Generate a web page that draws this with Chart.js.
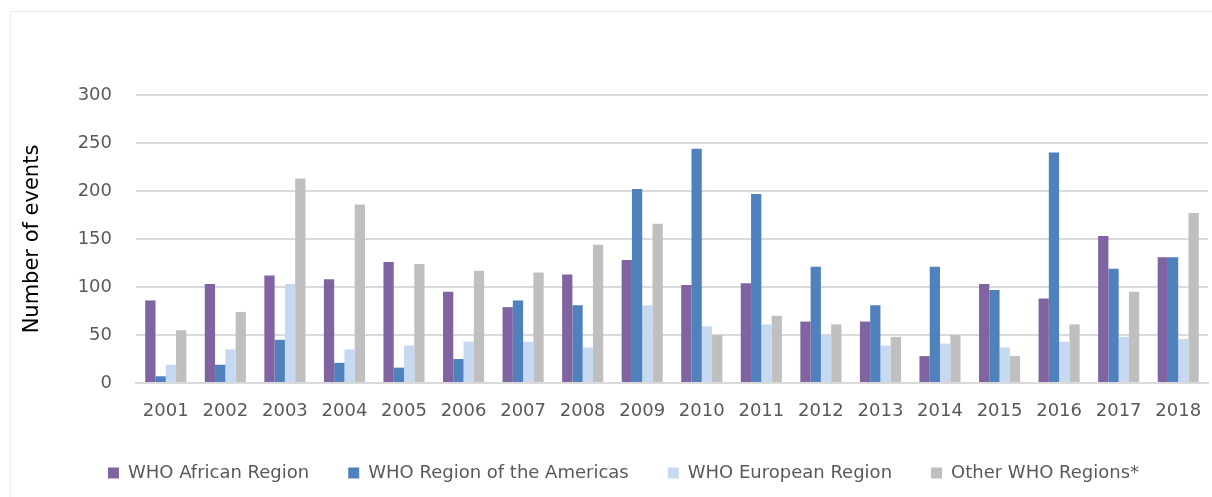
<!DOCTYPE html>
<html>
<head>
<meta charset="utf-8">
<script src="https://cdn.jsdelivr.net/npm/chart.js@4.4.1/dist/chart.umd.min.js"></script>
<style>
  body { margin: 0; background: #fff; overflow: hidden; }
  #frame { position: absolute; left: 10px; top: 11px; width: 1300px; height: 600px;
           border-left: 1px solid #ececec; border-top: 1px solid #ececec; }
  #chart { position: absolute; left: 0; top: 0; }
</style>
</head>
<body>
<div id="frame"></div>
<canvas id="chart" width="1212" height="497"></canvas>
<script>
var years = ['2001', '2002', '2003', '2004', '2005', '2006', '2007', '2008', '2009',
  '2010', '2011', '2012', '2013', '2014', '2015', '2016', '2017', '2018'];
var african = [86, 103, 112, 108, 126, 95, 79, 113, 128, 102, 104, 64, 64, 28, 103, 88, 153, 131];
var americas = [7, 19, 45, 21, 16, 25, 86, 81, 202, 244, 197, 121, 81, 121, 97, 240, 119, 131];
var european = [19, 35, 103, 35, 39, 43, 43, 37, 81, 59, 61, 50, 39, 41, 37, 43, 48, 46];
var other = [55, 74, 213, 186, 124, 117, 115, 144, 166, 50, 70, 61, 48, 50, 28, 61, 95, 177];
var yTicks = [0, 50, 100, 150, 200, 250, 300];

var font = 'DejaVu Sans';
var grey = '#595959';

var ctx = document.getElementById('chart').getContext('2d');
var chart = new Chart(ctx, {
  type: 'bar',
  data: {
    labels: years,
    datasets: [
      { label: 'WHO African Region', data: african, backgroundColor: '#8064A2' },
      { label: 'WHO Region of the Americas', data: americas, backgroundColor: '#4F81BD' },
      { label: 'WHO European Region', data: european, backgroundColor: '#C6D9F1' },
      { label: 'Other WHO Regions*', data: other, backgroundColor: '#BFBFBF' }
    ]
  },
  options: {
    responsive: false,
    animation: false,
    layout: { padding: { left: 39, right: 4, top: 95, bottom: 5 } },
    datasets: { bar: { categoryPercentage: 0.69, barPercentage: 1.0 } },
    plugins: {
      tooltip: { enabled: false },
      legend: {
        position: 'bottom',
        labels: {
          boxWidth: 11,
          boxHeight: 11,
          padding: 39,
          color: grey,
          font: { family: font, size: 18 }
        }
      }
    },
    scales: {
      x: {
        grid: { display: false },
        border: { color: '#d9d9d9', width: 2 },
        ticks: { color: grey, padding: 10, maxRotation: 0, font: { family: font, size: 18 } },
        afterFit: function (s) { s.height = 42; }
      },
      y: {
        min: 0,
        max: 300,
        afterBuildTicks: function (s) { s.ticks = yTicks.map(function (v) { return { value: v }; }); },
        grid: { color: '#dadada', lineWidth: 2, drawTicks: false },
        border: { display: false },
        ticks: { color: grey, padding: 24, font: { family: font, size: 18 } },
        title: {
          display: true,
          text: 'Number of events',
          color: '#000',
          padding: { top: -18.6, bottom: 0 },
          font: { family: font, size: 21 }
        },
        afterFit: function (s) { s.width = 97; }
      }
    }
  }
});
</script>
</body>
</html>
